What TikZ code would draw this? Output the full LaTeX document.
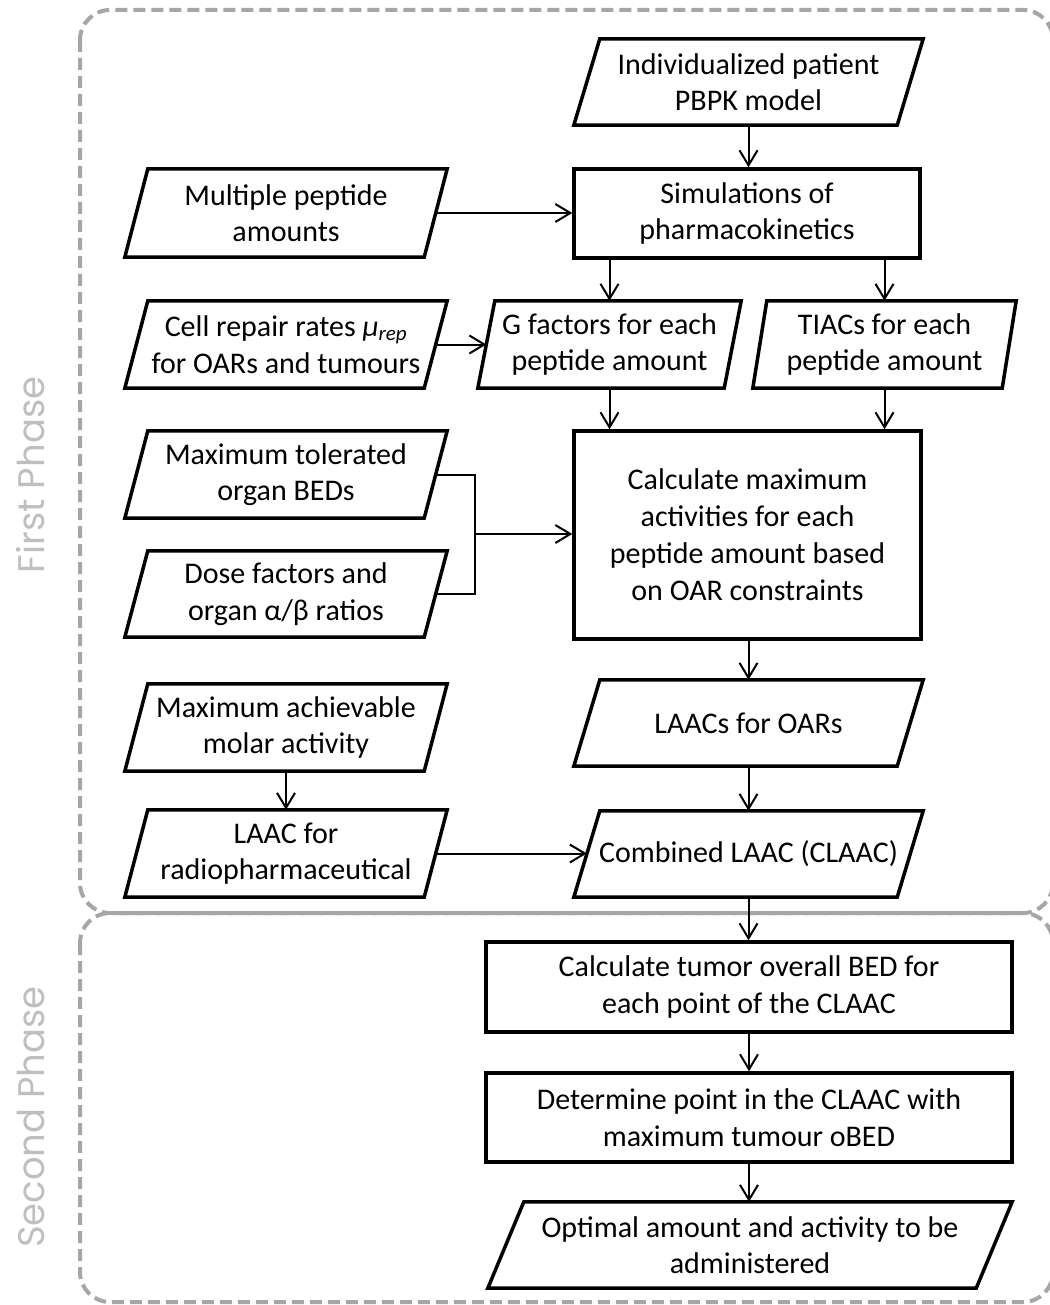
\documentclass[tikz,border=0pt]{standalone}
\usepackage{fontspec}
\setmainfont{Carlito}
\newfontfamily\phasefont{Poppins}
\usetikzlibrary{arrows.meta,calc}
\definecolor{phasegray}{HTML}{A6A6A6}
\definecolor{labelgray}{HTML}{BFBFBF}
\newcommand\drawpara[2]{%
  \draw[boxline] ([xshift=#2*0.5]#1.north west) -- ([xshift=#2*0.5]#1.north east)
    -- ([xshift=-#2*0.5]#1.south east) -- ([xshift=-#2*0.5]#1.south west) -- cycle;}
\tikzset{
  boxline/.style={line width=3.5pt, draw=black, line join=miter},
  txt/.style={align=center, inner sep=0pt, font=\fontsize{30}{36.5}\selectfont},
  parabox/.style={txt},
  rectbox/.style={txt, boxline},
  arr/.style={line width=2pt, -{Straight Barb[length=15pt,width=18pt,line width=2pt]}},
  plainline/.style={line width=2pt},
  phase/.style={draw=phasegray, line width=4pt, dash pattern=on 12pt off 6pt, rounded corners=30pt},
  phaselabel/.style={text=labelgray, font=\phasefont\fontsize{37}{40}\selectfont, rotate=90, inner sep=0pt}
}
\begin{document}
\begin{tikzpicture}[x=1pt,y=-1pt]
\useasboundingbox (0,0) rectangle (1049,1305);
% phase containers
\draw[phase] (80,10) rectangle (1053,913);
\draw[phase] (80,913) rectangle (1053,1302);
\node[phaselabel] (lab1) at (31,475) {First Phase};
\node[phaselabel] (lab2) at (31,1117) {Second Phase};

% nodes
\node[parabox, minimum width=323pt, minimum height=86pt] (indiv) at (748.5,82) {Individualized patient\\PBPK model};
\node[rectbox, minimum width=346pt, minimum height=89pt] (sim) at (747,213.5) {Simulations of\\pharmacokinetics};
\node[parabox, minimum width=299pt, minimum height=88pt] (mult) at (286,213) {Multiple peptide\\amounts};
\node[parabox, minimum width=299pt, minimum height=87pt] (cell) at (286,344.5) {Cell repair rates {\itshape μ\textsubscript{rep}}\\for OARs and tumours};
\node[parabox, minimum width=246pt, minimum height=87pt] (gfac) at (609.5,344.5) {G factors for each\\peptide amount};
\node[parabox, minimum width=249pt, minimum height=87pt] (tiac) at (884.5,344.5) {TIACs for each\\peptide amount};
\node[rectbox, minimum width=347pt, minimum height=208pt, font=\fontsize{30}{37}\selectfont] (calc) at (747.5,535) {Calculate maximum\\activities for each\\peptide amount based\\on OAR constraints};
\node[parabox, minimum width=299pt, minimum height=87pt] (mtol) at (286,474.5) {Maximum tolerated\\organ BEDs};
\node[parabox, minimum width=299pt, minimum height=86pt] (dose) at (286,594) {Dose factors and\\organ α/β ratios};
\node[parabox, minimum width=323pt, minimum height=86pt] (laacs) at (748.5,723) {LAACs for OARs};
\node[parabox, minimum width=299pt, minimum height=87pt] (mach) at (286,727.5) {Maximum achievable\\molar activity};
\node[parabox, minimum width=299pt, minimum height=87pt] (laacr) at (286,853.5) {LAAC for\\radiopharmaceutical};
\node[parabox, minimum width=323pt, minimum height=86pt] (comb) at (748.5,854) {Combined LAAC (CLAAC)};
\node[rectbox, minimum width=526pt, minimum height=90pt] (ctum) at (749,987) {Calculate tumor overall BED for\\each point of the CLAAC};
\node[rectbox, minimum width=526pt, minimum height=89pt] (det) at (749,1117.5) {Determine point in the CLAAC with\\maximum tumour oBED};
\node[parabox, minimum width=488pt, minimum height=86pt] (opt) at (750,1245) {Optimal amount and activity to be\\administered};

% parallelogram outlines
\drawpara{indiv}{26}
\drawpara{mult}{23}
\drawpara{cell}{23}
\drawpara{gfac}{17}
\drawpara{tiac}{14}
\drawpara{mtol}{23}
\drawpara{dose}{23}
\drawpara{laacs}{26}
\drawpara{mach}{23}
\drawpara{laacr}{23}
\drawpara{comb}{26}
\drawpara{opt}{36}

% connectors
\draw[arr] (indiv.south) -- (indiv.south |- sim.north);
\draw[arr] (mult.east) -- (mult.east -| sim.west);
\draw[arr] (gfac.north |- sim.south) -- (gfac.north);
\draw[arr] (tiac.north |- sim.south) -- (tiac.north);
\draw[arr] (cell.east) -- (cell.east -| gfac.west);
\draw[arr] (gfac.south) -- (gfac.south |- calc.north);
\draw[arr] (tiac.south) -- (tiac.south |- calc.north);
\coordinate (j) at (475,534);
\draw[plainline] (mtol.east) -- (mtol.east -| j) |- (dose.east);
\draw[arr] (j) -- (j -| calc.west);
\draw[arr] (calc.south -| laacs.south) -- (laacs.north);
\draw[arr] (laacs.south) -- (comb.north);
\draw[arr] (mach.south) -- (laacr.north);
\draw[arr] (laacr.east) -- (laacr.east -| comb.west);
\draw[arr] (comb.south) -- (comb.south |- ctum.north);
\draw[arr] (ctum.south) -- (det.north);
\draw[arr] (det.south) -- (det.south |- opt.north);
\end{tikzpicture}
\end{document}
